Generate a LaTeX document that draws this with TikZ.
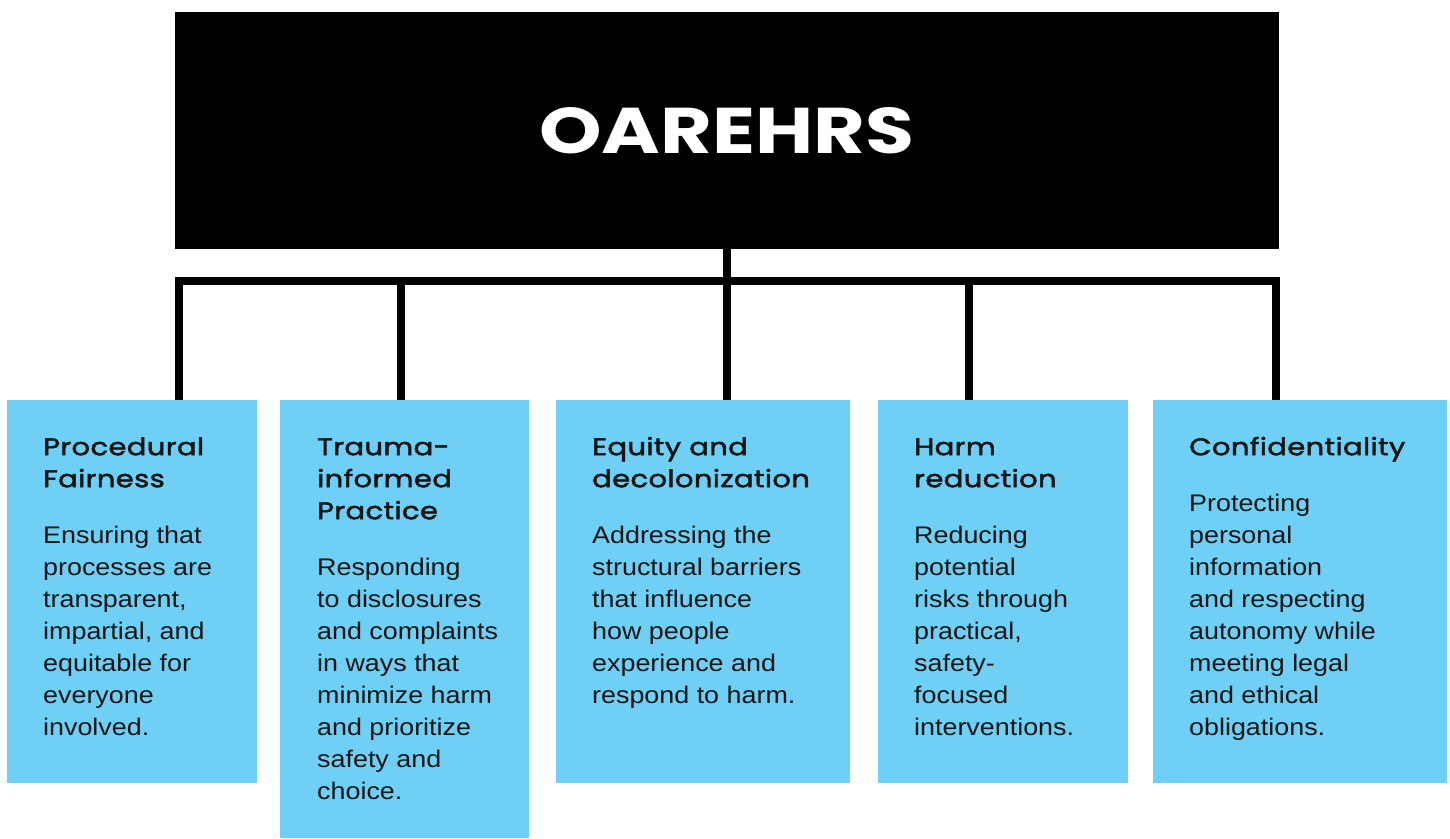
\documentclass[tikz,border=0pt]{standalone}
\usepackage{fontspec}
\setmainfont{Liberation Sans}[FakeStretch=1.12]
\newfontfamily\headfont{Poppins}[FakeStretch=1.21, FakeBold=2, LetterSpace=1.5]
\newfontfamily\titlefont{Poppins}
\definecolor{sky}{HTML}{6FCFF5}
\definecolor{ink}{HTML}{151515}
\begin{document}
\begin{tikzpicture}[x=1pt,y=-1pt,
  panel/.style={fill=sky, draw=none, anchor=north west, inner sep=0pt, outer sep=0pt},
  head/.style={anchor=north west, inner sep=0pt, align=left, text=ink,
    font={\headfont\fontsize{24}{32}\selectfont}},
  body/.style={anchor=north west, inner sep=0pt, align=left, text=ink,
    font={\fontsize{24}{32}\selectfont}},
  link/.style={line width=8pt, line join=miter, line cap=butt}]
\useasboundingbox (0,0) rectangle (1450,838);

% top banner
\node[fill=black, inner sep=0pt, outer sep=0pt, minimum width=1104pt, minimum height=237pt,
  text=white] (root) at (727,130.5)
  {\resizebox{375pt}{46pt}{\titlefont\bfseries OAREHRS}};

% panels
\node[panel, minimum width=250pt, minimum height=383pt] (p1) at (7,400) {};
\node[panel, minimum width=249pt, minimum height=438pt] (p2) at (280,400) {};
\node[panel, minimum width=294pt, minimum height=383pt] (p3) at (556,400) {};
\node[panel, minimum width=250pt, minimum height=383pt] (p4) at (878,400) {};
\node[panel, minimum width=294pt, minimum height=383pt] (p5) at (1153,400) {};

% headings
\node[head] (h1) at (43,431) {\rule{0pt}{24pt}Procedural\\Fairness};
\node[head] (h2) at (317,431) {\rule{0pt}{24pt}Trauma-\\informed\\Practice};
\node[head] (h3) at (592,431) {\rule{0pt}{24pt}Equity and\\decolonization};
\node[head] (h4) at (914,431) {\rule{0pt}{24pt}Harm\\reduction};
\node[head] (h5) at (1189,431) {\rule{0pt}{24pt}Confidentiality};

% descriptions
\node[body] (t1) at (43,519) {\rule{0pt}{24pt}Ensuring that\\processes are\\transparent,\\impartial, and\\equitable for\\everyone\\involved.};
\node[body] (t2) at (317,551) {\rule{0pt}{24pt}Responding\\to disclosures\\and complaints\\in ways that\\minimize harm\\and prioritize\\safety and\\choice.};
\node[body] (t3) at (592,519) {\rule{0pt}{24pt}Addressing the\\structural barriers\\that influence\\how people\\experience and\\respond to harm.};
\node[body] (t4) at (914,519) {\rule{0pt}{24pt}Reducing\\potential\\risks through\\practical,\\safety-\\focused\\interventions.};
\node[body] (t5) at (1189,487) {\rule{0pt}{24pt}Protecting\\personal\\information\\and respecting\\autonomy while\\meeting legal\\and ethical\\obligations.};

% tree connectors
\coordinate (j1) at (179,281);
\coordinate (j2) at (401,281);
\coordinate (j3) at (727,281);
\coordinate (j4) at (969,281);
\coordinate (j5) at (1276,281);
\draw[link] (j1 |- p1.north) -- (j1) -- (j5) -- (j5 |- p5.north);
\draw[link] (root.south) -- (j3 |- p3.north);
\draw[link] (j2) -- (j2 |- p2.north);
\draw[link] (j4) -- (j4 |- p4.north);
\end{tikzpicture}
\end{document}
